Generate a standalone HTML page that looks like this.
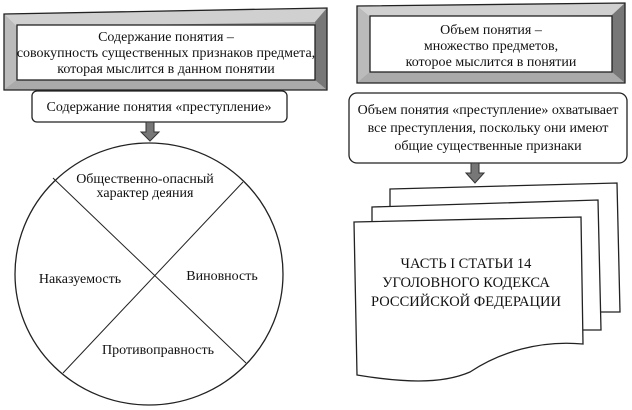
<!DOCTYPE html>
<html><head><meta charset="utf-8"><style>
body{margin:0;background:#fff;}
svg{display:block;font-family:"Liberation Serif","Noto Serif CJK SC",serif;}
</style></head><body>
<svg width="632" height="410" viewBox="0 0 632 410" xmlns="http://www.w3.org/2000/svg">
<polygon points="4,14 327,8 327,90 4,90" fill="#999"/>
<polygon points="4,14 327,8 315,22 17,27" fill="#d0d0d0"/>
<polygon points="4,14 17,27 17,80 4,90" fill="#bbb"/>
<polygon points="327,8 327,90 315,80 315,22" fill="#777"/>
<polygon points="4,90 327,90 315,80 17,80" fill="#aaa"/>
<polygon points="4,14 327,8 327,90 4,90" fill="none" stroke="#222" stroke-width="1.3"/>
<rect x="17" y="25" width="298" height="55" fill="#fff" stroke="#222" stroke-width="1.3"/>
<g font-size="14" text-anchor="middle" fill="#111">
<text x="166" y="41">Содержание понятия –</text>
<text x="166" y="57">совокупность существенных признаков предмета,</text>
<text x="166" y="73">которая мыслится в данном понятии</text>
</g>
<rect x="32" y="91" width="255" height="31" rx="5" fill="#fff" stroke="#222" stroke-width="1.3"/>
<text x="159" y="111" font-size="14" text-anchor="middle" fill="#111">Содержание понятия «преступление»</text>
<polygon points="146,122 154,122 154,132 159,132 150,141 141,132 146,132" fill="#777" stroke="#333"/>
<ellipse cx="149" cy="274" rx="134" ry="131" fill="#fff" stroke="#222" stroke-width="1.3"/>
<line x1="53" y1="178" x2="246" y2="363" stroke="#222" stroke-width="1"/>
<line x1="243" y1="182" x2="63" y2="373" stroke="#222" stroke-width="1"/>
<g font-size="14" text-anchor="middle" fill="#111">
<text x="145" y="183">Общественно-опасный</text>
<text x="145" y="197">характер деяния</text>
<text x="80" y="283">Наказуемость</text>
<text x="222" y="280">Виновность</text>
<text x="158" y="354">Противоправность</text>
</g>
<polygon points="357,6 625,3 625,83 357,83" fill="#999"/>
<polygon points="357,6 625,3 612,15 370,17" fill="#d0d0d0"/>
<polygon points="357,6 370,17 370,72 357,83" fill="#bbb"/>
<polygon points="625,3 625,83 612,72 612,15" fill="#777"/>
<polygon points="357,83 625,83 612,72 370,72" fill="#aaa"/>
<polygon points="357,6 625,3 625,83 357,83" fill="none" stroke="#222" stroke-width="1.3"/>
<rect x="370" y="16" width="242" height="56" fill="#fff" stroke="#222" stroke-width="1.3"/>
<g font-size="14" text-anchor="middle" fill="#111">
<text x="491" y="34">Объем понятия –</text>
<text x="491" y="50">множество предметов,</text>
<text x="491" y="66">которое мыслится в понятии</text>
</g>
<rect x="349" y="93" width="278" height="70" rx="8" fill="#fff" stroke="#222" stroke-width="1.3"/>
<g font-size="14" text-anchor="middle" fill="#111">
<text x="488" y="114">Объем понятия «преступление» охватывает</text>
<text x="488" y="132">все преступления, поскольку они имеют</text>
<text x="488" y="150">общие существенные признаки</text>
</g>
<polygon points="471,163 479,163 479,173 484,173 475,183 466,173 471,173" fill="#777" stroke="#333"/>
<polygon points="390,189 617,183 620,312 390,312" fill="#fff" stroke="#222" stroke-width="1.3"/>
<polygon points="372,207 598,200 601,330 372,330" fill="#fff" stroke="#222" stroke-width="1.3"/>
<path d="M354,222 L581,217 L583,344 C540,340 500,352 470,372 C440,385 400,382 357,375 Z" fill="#fff" stroke="#222" stroke-width="1.3"/>
<g font-size="14.5" text-anchor="middle" fill="#111">
<text x="466" y="268">ЧАСТЬ I СТАТЬИ 14</text>
<text x="466" y="287">УГОЛОВНОГО КОДЕКСА</text>
<text x="466" y="306">РОССИЙСКОЙ ФЕДЕРАЦИИ</text>
</g>
</svg>
</body></html>
